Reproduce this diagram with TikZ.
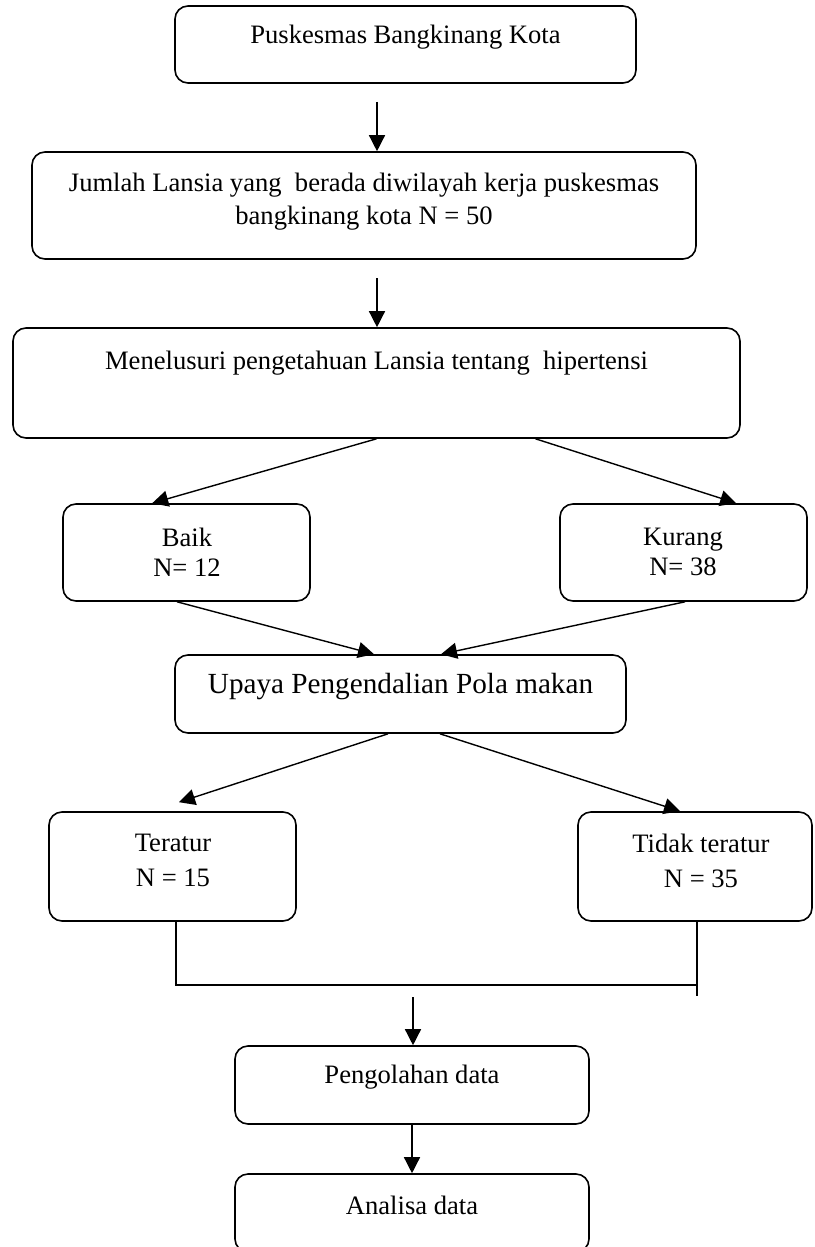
\documentclass[tikz,border=0pt]{standalone}
\usepackage{fontspec}
\setmainfont{Liberation Serif}
\usetikzlibrary{arrows.meta,calc}

\begin{document}
\begin{tikzpicture}[x=0.5pt,y=-0.5pt,>={Triangle[length=8pt,width=8pt]},
  box/.style={draw,line width=0.8pt,rounded corners=6.5pt,inner sep=0pt},
  txt/.style={align=center,inner sep=0pt,font=\fontsize{13.3}{16.5}\selectfont},
  link/.style={->,line width=0.7pt}]
\useasboundingbox (0,0) rectangle (814,1247);

% ---------- top of the flow ----------
\node[box,minimum width=230.5pt,minimum height=38.5pt] (puskesmas) at (405.5,44.5) {};
\node[txt] (puskesmasT) at (405.5,37) {Puskesmas Bangkinang Kota};

\node[box,minimum width=332pt,minimum height=53.5pt] (jumlah) at (364,205.5) {};
\node[txt] (jumlahT) at (364,201.5)
  {Jumlah Lansia yang~ berada diwilayah kerja puskesmas\\ bangkinang kota N = 50};

\node[box,minimum width=363.5pt,minimum height=55pt] (telusur) at (376.5,383) {};
\node[txt] (telusurT) at (376.5,363) {Menelusuri pengetahuan Lansia tentang~ hipertensi};

\coordinate (a1) at (377,102);
\coordinate (a2) at (377,278);
\draw[link] (a1) -- (a1 |- jumlah.north);
\draw[link] (a2) -- (a2 |- telusur.north);

% ---------- knowledge ----------
\node[box,minimum width=123.5pt,minimum height=48.5pt] (baik) at (186.5,552.5) {};
\node[txt,font=\fontsize{13.3}{15}\selectfont] (baikT) at (187,552) {Baik\\ N= 12};
\node[box,minimum width=123.5pt,minimum height=48.5pt] (kurang) at (683.5,552.5) {};
\node[txt,font=\fontsize{13.3}{15}\selectfont] (kurangT) at (683,552) {Kurang\\ N= 38};

\draw[link] (telusur.south) -- ($(baik.north west)+(90,0)$);
\draw[link] ($(telusur.south)+(159,0)$) -- ($(kurang.north west)+(177,0)$);

% ---------- diet control ----------
\node[box,minimum width=225.5pt,minimum height=39pt] (upaya) at (400.5,694) {};
\node[txt,font=\fontsize{14.6}{17}\selectfont] (upayaT) at (400.5,687)
  {Upaya Pengendalian Pola makan};

\draw[link] ($(baik.south)+(-9.5,0)$) -- ($(upaya.north)+(-26.5,0)$);
\draw[link] ($(kurang.south)+(1.5,0)$) -- ($(upaya.north)+(40.5,0)$);

\node[box,minimum width=123.5pt,minimum height=54.5pt] (teratur) at (172.5,866.5) {};
\node[txt,font=\fontsize{13.3}{17.5}\selectfont] (teraturT) at (173,860.5) {Teratur\\ N = 15};
\node[box,minimum width=117pt,minimum height=54.5pt] (tidak) at (695,866.5) {};
\node[txt,font=\fontsize{13.3}{17.5}\selectfont] (tidakT) at (701,860.5) {Tidak teratur\\ N = 35};

\draw[link] ($(upaya.south)+(-12.5,0)$) -- ($(teratur.north)+(6.5,-9)$);
\draw[link] ($(upaya.south)+(39.5,0)$) -- ($(tidak.north)+(-15,0)$);

% ---------- joining line ----------
\draw[line width=0.7pt] ($(teratur.south)+(3.5,0)$) |- ($(tidak.south)+(2,63)$);
\draw[line width=0.7pt] ($(tidak.south)+(2,0)$) -- ++(0,74);

% ---------- data ----------
\node[box,minimum width=177pt,minimum height=39pt] (olah) at (412,1085) {};
\node[txt] (olahT) at (412,1077) {Pengolahan data};
\node[box,minimum width=177pt,minimum height=39pt] (analisa) at (412,1213) {};
\node[txt] (analisaT) at (412,1205) {Analisa data};

\coordinate (a3) at (413,997);
\draw[link] (a3) -- (a3 |- olah.north);
\draw[link] (olah.south) -- (analisa.north);
\end{tikzpicture}
\end{document}
